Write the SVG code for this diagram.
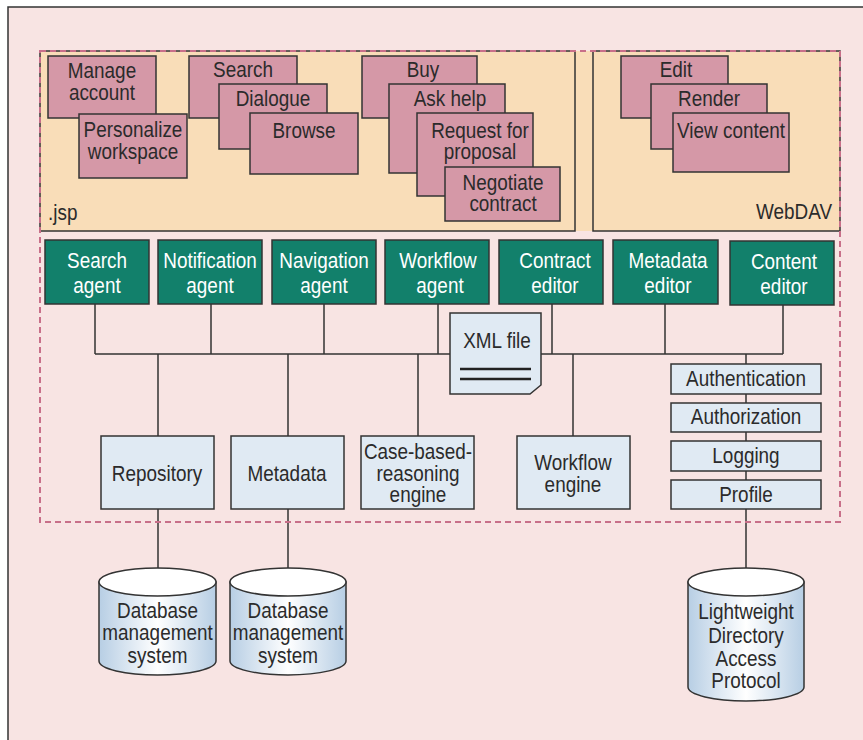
<svg xmlns="http://www.w3.org/2000/svg" width="863" height="740" viewBox="0 0 863 740">
<defs>
<linearGradient id="cyl" x1="0" y1="0" x2="1" y2="0">
<stop offset="0" stop-color="#B7CEE4"/>
<stop offset="0.5" stop-color="#FFFFFF"/>
<stop offset="1" stop-color="#B7CEE4"/>
</linearGradient>
<style>
text{font-family:"Liberation Sans",Arial,sans-serif;font-size:22px;fill:#2B2B2B;text-anchor:middle}
.w{fill:#FFFFFF}
.mauve{fill:#D598A7;stroke:#333;stroke-width:1.5}
.green{fill:#12806B;stroke:#333;stroke-width:1.5}
.blue{fill:#E0EAF3;stroke:#333;stroke-width:1.5}
.panel{fill:#F9DDB8;stroke:#333;stroke-width:1.5}
.ln{stroke:#333;stroke-width:1.5;fill:none}
.cylb{fill:url(#cyl);stroke:#333;stroke-width:1.5}
.cylt{fill:#FFFFFF;stroke:#333;stroke-width:1.5}
</style>
</defs>
<rect x="0" y="0" width="863" height="740" fill="#FFFFFF"/>
<rect x="8" y="7" width="880" height="760" fill="#F8E4E3" stroke="#333" stroke-width="1.5"/>
<g id="top-area">
<rect x="40" y="51" width="800" height="180" fill="#F9DDB8"/>
<rect id="jsp" class="panel" x="40" y="51" width="535" height="180"/>
<rect id="webdav" class="panel" x="593" y="51" width="247" height="180"/>
<text transform="translate(48,220) scale(.86,1)" style="text-anchor:start">.jsp</text>
<text transform="translate(832,219) scale(.86,1)" style="text-anchor:end">WebDAV</text>
</g>
<g id="connectors">
<path class="ln" d="M95,304V354M211,304V354M324,304V354M438,304V354M552,304V354M665,304V354M783,304V354M95,354H783"/>
<path class="ln" d="M158,354V436M288,354V436M418,354V436M573,354V436M746,354V364"/>
<path class="ln" d="M746,394V403M746,432V441M746,471V480M746,509V568"/>
<path class="ln" d="M158,509V568M288,509V568"/>
</g>
<g id="manage-account"><rect class="mauve" x="48" y="56" width="108" height="62"/><text transform="translate(102,78) scale(.86,1)">Manage</text><text transform="translate(102,100) scale(.86,1)">account</text></g>
<g id="personalize-workspace"><rect class="mauve" x="79" y="114" width="108" height="64"/><text transform="translate(133,137) scale(.86,1)">Personalize</text><text transform="translate(133,159) scale(.86,1)">workspace</text></g>
<g id="search"><rect class="mauve" x="189" y="56" width="108" height="62"/><text transform="translate(243,77) scale(.86,1)">Search</text></g>
<g id="dialogue"><rect class="mauve" x="219" y="84" width="108" height="65"/><text transform="translate(273,106) scale(.86,1)">Dialogue</text></g>
<g id="browse"><rect class="mauve" x="250" y="113" width="108" height="61"/><text transform="translate(304,138) scale(.86,1)">Browse</text></g>
<g id="buy"><rect class="mauve" x="362" y="56" width="115" height="62"/><text transform="translate(423,77) scale(.86,1)">Buy</text></g>
<g id="ask-help"><rect class="mauve" x="389" y="84" width="116" height="89"/><text transform="translate(450,106) scale(.86,1)">Ask help</text></g>
<g id="request-for-proposal"><rect class="mauve" x="417" y="113" width="116" height="83"/><text transform="translate(480,138) scale(.86,1)">Request for</text><text transform="translate(480,159) scale(.86,1)">proposal</text></g>
<g id="negotiate-contract"><rect class="mauve" x="445" y="167" width="115" height="54"/><text transform="translate(503,190) scale(.86,1)">Negotiate</text><text transform="translate(503,211) scale(.86,1)">contract</text></g>
<g id="edit"><rect class="mauve" x="621" y="56" width="107" height="62"/><text transform="translate(676,77) scale(.86,1)">Edit</text></g>
<g id="render"><rect class="mauve" x="651" y="84" width="116" height="65"/><text transform="translate(709,106) scale(.86,1)">Render</text></g>
<g id="view-content"><rect class="mauve" x="673" y="113" width="116" height="59"/><text transform="translate(731,138) scale(.86,1)">View content</text></g>
<g id="search-agent"><rect class="green" x="45" y="240" width="104" height="64"/><text class="w" transform="translate(97,268) scale(.86,1)">Search</text><text class="w" transform="translate(97,293) scale(.86,1)">agent</text></g>
<g id="notification-agent"><rect class="green" x="158" y="240" width="104" height="64"/><text class="w" transform="translate(210,268) scale(.86,1)">Notification</text><text class="w" transform="translate(210,293) scale(.86,1)">agent</text></g>
<g id="navigation-agent"><rect class="green" x="272" y="240" width="104" height="64"/><text class="w" transform="translate(324,268) scale(.86,1)">Navigation</text><text class="w" transform="translate(324,293) scale(.86,1)">agent</text></g>
<g id="workflow-agent"><rect class="green" x="385" y="240" width="104" height="64"/><text class="w" transform="translate(438,268) scale(.86,1)">Workflow</text><text class="w" transform="translate(440,293) scale(.86,1)">agent</text></g>
<g id="contract-editor"><rect class="green" x="499" y="240" width="104" height="64"/><text class="w" transform="translate(555,268) scale(.86,1)">Contract</text><text class="w" transform="translate(555,293) scale(.86,1)">editor</text></g>
<g id="metadata-editor"><rect class="green" x="613" y="240" width="105" height="64"/><text class="w" transform="translate(668,268) scale(.86,1)">Metadata</text><text class="w" transform="translate(668,293) scale(.86,1)">editor</text></g>
<g id="content-editor"><rect class="green" x="730" y="241" width="104" height="64"/><text class="w" transform="translate(784,269) scale(.86,1)">Content</text><text class="w" transform="translate(784,294) scale(.86,1)">editor</text></g>
<g id="xml-file"><path class="blue" d="M450,313H541V385L530,394H450Z"/><text transform="translate(497,348) scale(.86,1)">XML file</text><path d="M460,369H531M460,379H531" stroke="#222" stroke-width="2.5"/></g>
<g id="repository"><rect class="blue" x="101" y="436" width="113" height="73"/><text transform="translate(157,481) scale(.86,1)">Repository</text></g>
<g id="metadata"><rect class="blue" x="231" y="436" width="113" height="73"/><text transform="translate(287,481) scale(.86,1)">Metadata</text></g>
<g id="case-based-reasoning-engine"><rect class="blue" x="361" y="436" width="113" height="73"/><text transform="translate(418,459) scale(.86,1)">Case-based-</text><text transform="translate(418,481) scale(.86,1)">reasoning</text><text transform="translate(418,502) scale(.86,1)">engine</text></g>
<g id="workflow-engine"><rect class="blue" x="517" y="436" width="113" height="73"/><text transform="translate(573,470) scale(.86,1)">Workflow</text><text transform="translate(573,492) scale(.86,1)">engine</text></g>
<g id="authentication"><rect class="blue" x="671" y="364" width="150" height="30"/><text transform="translate(746,386) scale(.86,1)">Authentication</text></g>
<g id="authorization"><rect class="blue" x="671" y="403" width="150" height="29"/><text transform="translate(746,424) scale(.86,1)">Authorization</text></g>
<g id="logging"><rect class="blue" x="671" y="441" width="150" height="30"/><text transform="translate(746,463) scale(.86,1)">Logging</text></g>
<g id="profile"><rect class="blue" x="671" y="480" width="150" height="29"/><text transform="translate(746,502) scale(.86,1)">Profile</text></g>
<rect x="40" y="51" width="800" height="471" fill="none" stroke="#C86F89" stroke-width="2" stroke-dasharray="6,4"/>
<g id="dbms-1"><path class="cylb" d="M99,582V661A58.5,14 0 0 0 216,661V582Z"/><ellipse class="cylt" cx="157.5" cy="582" rx="58.5" ry="14"/><text transform="translate(157.5,618) scale(.86,1)">Database</text><text transform="translate(157.5,640) scale(.86,1)">management</text><text transform="translate(157.5,663) scale(.86,1)">system</text></g>
<g id="dbms-2"><path class="cylb" d="M230,582V661A58,14 0 0 0 346,661V582Z"/><ellipse class="cylt" cx="288" cy="582" rx="58" ry="14"/><text transform="translate(288,618) scale(.86,1)">Database</text><text transform="translate(288,640) scale(.86,1)">management</text><text transform="translate(288,663) scale(.86,1)">system</text></g>
<g id="ldap"><path class="cylb" d="M688,582V687A58,14 0 0 0 804,687V582Z"/><ellipse class="cylt" cx="746" cy="582" rx="58" ry="14"/><text transform="translate(746,619) scale(.86,1)">Lightweight</text><text transform="translate(746,643) scale(.86,1)">Directory</text><text transform="translate(746,666) scale(.86,1)">Access</text><text transform="translate(746,688) scale(.86,1)">Protocol</text></g>
</svg>
